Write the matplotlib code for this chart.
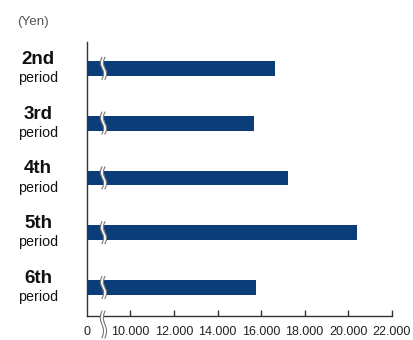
import numpy as np
import matplotlib.pyplot as plt
from matplotlib.transforms import blended_transform_factory

# Share price per period (yen)
periods = ['2nd', '3rd', '4th', '5th', '6th']
prices = [16630, 15665, 17225, 20420, 15790]
tick_values = [10000, 12000, 14000, 16000, 18000, 20000, 22000]
tick_labels = ['10.000', '12.000', '14.000', '16.000', '18.000', '20.000', '22.000']

# the axis is broken: "0" sits where 8,000 would be
x_start = 8000
x_end = 22000

bar_color = '#0b3d7b'
axis_color = '#333333'
font = ['Liberation Sans', 'DejaVu Sans']

fig = plt.figure(figsize=(4.13, 3.40), dpi=100)
ax = fig.add_axes([86.9 / 413, 1 - 316 / 340, (391.7 - 86.9) / 413, (316 - 42) / 340])

y = np.arange(len(periods))
ax.barh(y, [p - x_start for p in prices], left=x_start, height=0.27,
        color=bar_color, zorder=2)

ax.set_xlim(x_start, x_end)
ax.set_ylim(len(periods) - 0.48, -0.48)

for side in ['top', 'right']:
    ax.spines[side].set_visible(False)
for side in ['left', 'bottom']:
    ax.spines[side].set_color(axis_color)
    ax.spines[side].set_linewidth(1.0)

ax.set_yticks([])
ax.set_xticks([x_start] + tick_values)
ax.set_xticklabels(['0'] + tick_labels, family=font, fontsize=9, color='#222222')
ax.tick_params(axis='x', direction='in', length=4, width=1, color=axis_color, pad=7)
ax.xaxis.get_major_ticks()[0].tick1line.set_visible(False)

# period labels on the left
lab_tr = ax.get_yaxis_transform()
for i, name in enumerate(periods):
    ax.annotate(name, (-0.16, i), xycoords=lab_tr, xytext=(0, 6.5), textcoords='offset points',
                ha='center', va='center', fontsize=13.5, fontweight='bold', family=font,
                color='#111111', annotation_clip=False)
    ax.annotate('period', (-0.16, i), xycoords=lab_tr, xytext=(0, -7), textcoords='offset points',
                ha='center', va='center', fontsize=10.3, family=font,
                color='#111111', annotation_clip=False)

fig.text(33 / 413, 1 - 22 / 340, '(Yen)', ha='center', va='center', fontsize=9.6,
         family=font, color='#555555')

# break marks (double squiggle) on each bar and on the x axis
px_per_unit = ax.get_position().width * 413 / (x_end - x_start)
brk_x = 8760
gap = 3.0 / px_per_unit
amp = 1.6 / px_per_unit
t = np.linspace(0, 1, 60)
wave = amp * np.sin(2 * np.pi * t)


def squiggle(y0, y1, transform):
    ys = y0 + (y1 - y0) * t
    xa = brk_x - gap / 2 + wave
    xb = brk_x + gap / 2 + wave
    ax.fill_betweenx(ys, xa, xb, color='white', transform=transform, zorder=3,
                     clip_on=False, linewidth=0)
    ax.plot(xa, ys, color='#777777', lw=0.8, transform=transform, zorder=4, clip_on=False)
    ax.plot(xb, ys, color='#777777', lw=0.8, transform=transform, zorder=4, clip_on=False)


for i in y:
    squiggle(i + 0.2, i - 0.2, ax.transData)

axis_tr = blended_transform_factory(ax.transData, ax.transAxes)
squiggle(-0.08, 0.018, axis_tr)

fig.savefig('out.png', dpi=100)
